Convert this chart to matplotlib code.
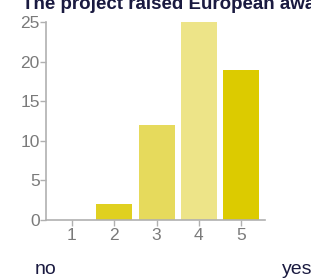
import matplotlib
matplotlib.use("Agg")
import matplotlib.pyplot as plt

categories = [1, 2, 3, 4, 5]
values = [0, 2, 12, 25, 19]
colors = ["#e0cf1f", "#e0d020", "#e6da5c", "#ede488", "#dccb00"]
yticks = [0, 5, 10, 15, 20, 25]
title = "The project raised European awareness"

fig = plt.figure(figsize=(3.11, 2.78), dpi=100)
ax = fig.add_axes([46/311, (278-220)/278, (265-46)/311, (220-22)/278])
ax.bar(categories, values, width=0.85, color=colors)
ax.set_xlim(0.39, 5.56)
ax.set_ylim(0, 25)
ax.set_xticks(categories)
ax.set_yticks(yticks)
for s in ["top", "right"]:
    ax.spines[s].set_visible(False)
for s in ["left", "bottom"]:
    ax.spines[s].set_color("#b0b0b0")
    ax.spines[s].set_linewidth(1.2)
ax.tick_params(colors="#b0b0b0", labelcolor="#7a7a7a", labelsize=12.5, length=4, width=1)
for t in ax.get_xticklabels() + ax.get_yticklabels():
    t.set_family("Liberation Sans")
ax.tick_params(axis="y", pad=0.5)
ax.tick_params(axis="x", pad=2)

fig.text(22/311, 1 - 9/278, title, fontsize=13.5, fontweight="bold", color="#1a1a40",
         family="Liberation Sans", va="baseline", ha="left")
fig.text(35/311, 1 - 274/278, "no", fontsize=14, color="#1a1a40", family="Liberation Sans",
         va="baseline", ha="left")
fig.text(282/311, 1 - 274/278, "yes", fontsize=14, color="#1a1a40", family="Liberation Sans",
         va="baseline", ha="left")
fig.savefig("out.png", dpi=100)
